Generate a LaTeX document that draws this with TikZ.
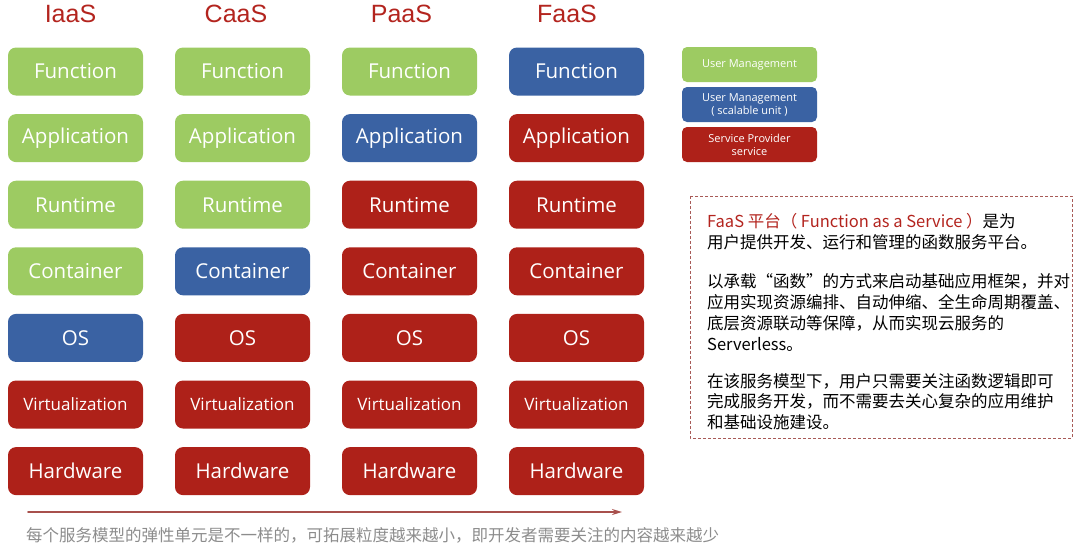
\documentclass[tikz,border=0pt]{standalone}
\usepackage{fontspec}
\setmainfont{Noto Sans CJK SC}
\newfontfamily\hdfont{Liberation Sans}
\newfontfamily\boxfont{Open Sans}
\usetikzlibrary{arrows.meta}

\definecolor{layergreen}{HTML}{9DCB62}
\definecolor{layerblue}{HTML}{3A62A3}
\definecolor{layerred}{HTML}{AE2119}
\definecolor{headred}{HTML}{B3241E}
\definecolor{arrowred}{HTML}{A8504C}
\definecolor{noteframe}{HTML}{A85A57}

\tikzset{
  layer/.style={rectangle,rounded corners=8pt,minimum width=135pt,minimum height=48pt,
    text=white,font=\boxfont\fontsize{20.5}{23}\selectfont,inner sep=0pt},
  small layer/.style={layer,font=\boxfont\fontsize{17}{19}\selectfont},
  legend/.style={rectangle,rounded corners=5pt,minimum width=135pt,minimum height=35pt,
    text=white,font=\boxfont\fontsize{11}{13}\selectfont,align=center,inner sep=0pt},
  head/.style={text=headred,font=\hdfont\fontsize{25}{27}\selectfont}
}

\begin{document}
\begin{tikzpicture}[line cap=round,line join=round,x=1pt,y=-1pt]
  \useasboundingbox (0,0) rectangle (1080,547);
  % columns: \b is the row of the blue layer
  \foreach \hd/\b [count=\c from 0] in {IaaS/4,CaaS/3,PaaS/1,FaaS/0} {
    \node[head] (hd\c) at (70.5+165.5*\c,14) {\hd};
    \foreach \lay [count=\r from 0] in {Function,Application,Runtime,Container,OS,Virtualization,Hardware} {
      \ifnum\r<\b \def\fillc{layergreen}\else
        \ifnum\r=\b \def\fillc{layerblue}\else \def\fillc{layerred}\fi\fi
      \ifnum\r=5 \def\lstyle{small layer}\else \def\lstyle{layer}\fi
      \node[\lstyle,fill=\fillc] (l\c-\r) at (75.5+167*\c,71.5+66.6*\r) {\lay};
    }
  }
  % legend
  \node[legend,fill=layergreen] (lg1) at (749.5,64.5) {User Management};
  \node[legend,fill=layerblue] (lg2) at (749.5,104.5) {User Management\\( scalable unit )};
  \node[legend,fill=layerred] (lg3) at (749.5,144.5) {Service Provider\\service};
  % note box
  \draw[noteframe,densely dashed,line width=0.8pt,line cap=butt] (690,196) rectangle (1072,438);
  \node[anchor=north west,align=left,inner sep=0pt,font=\fontsize{16.5}{20.8}\selectfont] (note) at (707,213)
    {{\color{headred}FaaS 平台（ Function as a Service ）}是为\\
     用户提供开发、运行和管理的函数服务平台。\\[19pt]
     以承载“函数”的方式来启动基础应用框架，并对\\
     应用实现资源编排、自动伸缩、全生命周期覆盖、\\
     底层资源联动等保障，从而实现云服务的\\
     Serverless。\\[16pt]
     在该服务模型下，用户只需要关注函数逻辑即可\\
     完成服务开发，而不需要去关心复杂的应用维护\\
     和基础设施建设。};
  % bottom arrow and caption
  \coordinate (ar0) at (28,512);
  \coordinate (ar1) at (622,512);
  \draw[arrowred,line width=1.6pt,-{Stealth[length=10pt,width=6pt]}] (ar0) -- (ar1);
  \node[anchor=west,inner sep=0pt,text=black!45,font=\fontsize{16.5}{18}\selectfont] (cap) at (26,535)
    {每个服务模型的弹性单元是不一样的，可拓展粒度越来越小，即开发者需要关注的内容越来越少};
\end{tikzpicture}
\end{document}
